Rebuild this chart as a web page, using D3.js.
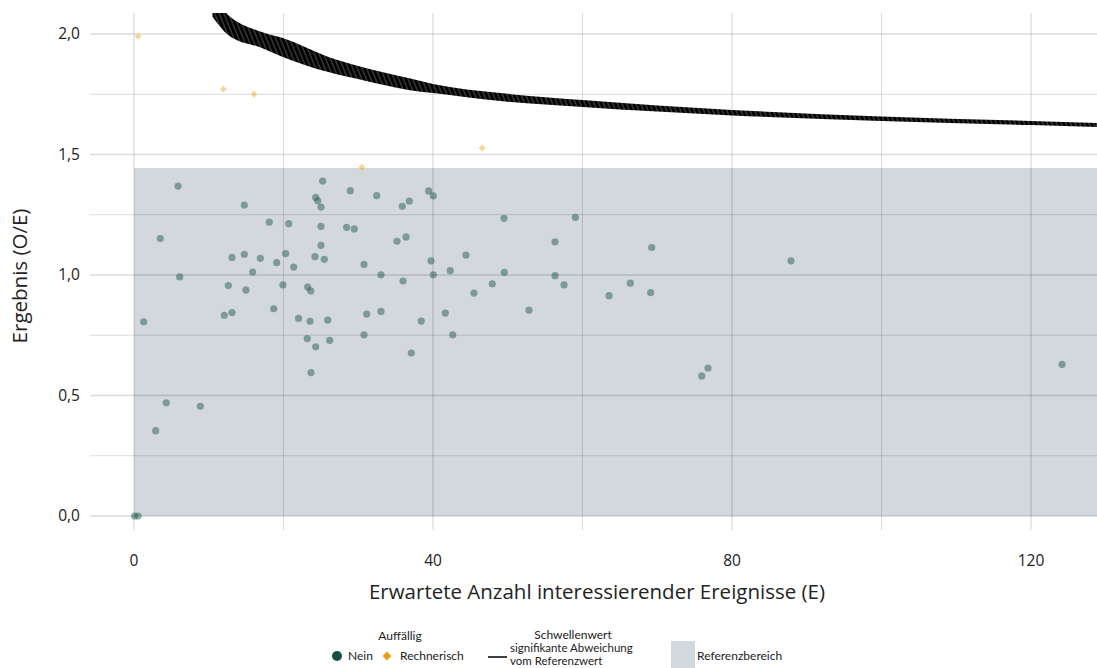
<!DOCTYPE html>
<html>
<head>
<meta charset="utf-8">
<script src="https://cdn.jsdelivr.net/npm/d3@7"></script>
<style>
  body { margin: 0; background: white; }
  svg { display: block; font-family: "Open Sans", Lato, sans-serif; }
</style>
</head>
<body>
<svg id="chart"></svg>
<script>
// Auffällig: Nein (E, O/E)
var neinE = [0.07, 0.54, 1.3, 2.9, 3.52, 4.32, 5.89, 6.11, 8.87, 12.08, 12.62, 13.11, 13.11, 14.76, 14.76,
  14.98, 15.88, 16.9, 18.1, 18.69, 19.09, 19.93, 20.29, 20.7, 21.36, 22.01, 23.24, 23.64, 23.55, 23.18,
  24.31, 23.68, 24.21, 24.31, 24.58, 25.02, 25.24, 25.02, 25.02, 25.46, 25.91, 26.18, 28.45, 28.94, 29.47,
  30.77, 31.13, 30.77, 32.47, 33.04, 33.04, 35.18, 35.89, 35.99, 36.39, 36.83, 37.1, 38.43, 39.42, 39.73,
  40.04, 40.04, 41.65, 42.31, 42.64, 44.41, 45.48, 47.93, 49.5, 49.54, 52.84, 56.32, 56.32, 57.53, 59.04,
  63.55, 66.4, 69.12, 69.26, 75.95, 76.79, 87.89, 124.15];
var neinR = [0, 0, 0.806, 0.354, 1.151, 0.47, 1.369, 0.992, 0.455, 0.833, 0.956, 0.844, 1.073, 1.29, 1.086,
  0.938, 1.012, 1.069, 1.219, 0.86, 1.051, 0.959, 1.089, 1.213, 1.033, 0.82, 0.95, 0.934, 0.808, 0.736,
  0.702, 0.595, 1.076, 1.322, 1.308, 1.282, 1.39, 1.202, 1.123, 1.065, 0.813, 0.729, 1.198, 1.35, 1.191,
  1.044, 0.838, 0.752, 1.329, 1.001, 0.849, 1.14, 1.285, 0.975, 1.158, 1.307, 0.676, 0.809, 1.349, 1.059,
  1.328, 1.001, 0.842, 1.018, 0.752, 1.083, 0.925, 0.963, 1.235, 1.011, 0.854, 1.138, 0.997, 0.959, 1.239,
  0.914, 0.966, 0.927, 1.114, 0.581, 0.614, 1.059, 0.629];

// Auffällig: Rechnerisch
var rechE = [0.54, 11.95, 16.05, 30.5, 46.56];
var rechR = [1.99, 1.771, 1.75, 1.447, 1.527];

// Schwellenwert (zigzag band: upper and lower edge)
var thrE  = [10.5, 12.6, 17.1, 19.9, 26, 30.5, 36.7, 40, 49, 60, 80, 100, 120, 128.8];
var thrHi = [2.15, 2.079, 2.008, 1.983, 1.905, 1.863, 1.817, 1.793, 1.755, 1.726, 1.685, 1.658, 1.639, 1.631];
var thrLo = [2.072, 1.996, 1.942, 1.905, 1.842, 1.809, 1.768, 1.755, 1.722, 1.697, 1.662, 1.639, 1.622, 1.614];

// Referenzbereich
var refLow = 0, refHigh = 1.444, refStartE = 0;

var xTicks = [0, 40, 80, 120], xMinor = [20, 60, 100];
var yTicks = [0, 0.5, 1, 1.5, 2], yMinor = [0.25, 0.75, 1.25, 1.75];

var W = 1097, H = 668;
var margin = {top: 13, right: 0, bottom: 138, left: 90},
    width = W - margin.left - margin.right,
    height = H - margin.top - margin.bottom;

var colNein = "#145048", colRech = "#e8a012", colBand = "#d3d8dc";

var svg = d3.select("#chart").attr("width", W).attr("height", H);

var x = d3.scaleLinear().domain([-5.886, 128.83]).range([0, width]);
var y = d3.scaleLinear().domain([-0.0581, 2.0871]).range([height, 0]);

var defs = svg.append("defs");
defs.append("clipPath").attr("id", "clip")
  .append("rect").attr("width", width).attr("height", height);

var pat = defs.append("pattern").attr("id", "zig")
  .attr("patternUnits", "userSpaceOnUse")
  .attr("width", 4.3).attr("height", 40)
  .attr("patternTransform", "rotate(-22)");
pat.append("rect").attr("width", 4.3).attr("height", 40).attr("fill", "#3a3a3a");
pat.append("rect").attr("width", 2.9).attr("height", 40).attr("fill", "black");

var g = svg.append("g")
  .attr("transform", "translate(" + margin.left + "," + margin.top + ")");

// reference band
g.append("rect")
  .attr("x", x(refStartE)).attr("y", y(refHigh))
  .attr("width", width - x(refStartE))
  .attr("height", y(refLow) - y(refHigh))
  .style("fill", colBand);

// grid
var grid = g.append("g").attr("class", "grid");
grid.selectAll(".vx").data(xTicks.concat(xMinor)).enter().append("line")
  .attr("x1", d => x(d)).attr("x2", d => x(d))
  .attr("y1", 0).attr("y2", height)
  .style("stroke", "rgba(0,0,0,0.14)")
  .style("stroke-width", d => xTicks.indexOf(d) >= 0 ? 1.3 : 1);
grid.selectAll(".hy").data(yTicks.concat(yMinor)).enter().append("line")
  .attr("y1", d => y(d)).attr("y2", d => y(d))
  .attr("x1", 0).attr("x2", width)
  .style("stroke", "rgba(0,0,0,0.14)")
  .style("stroke-width", d => yTicks.indexOf(d) >= 0 ? 1.3 : 1);

var plot = g.append("g").attr("clip-path", "url(#clip)");

// threshold
var area = d3.area()
  .x((d, i) => x(thrE[i]))
  .y0((d, i) => y(thrLo[i]))
  .y1((d, i) => y(thrHi[i]))
  .curve(d3.curveMonotoneX);
plot.append("path")
  .datum(thrE)
  .attr("d", area)
  .style("fill", "url(#zig)");

// points
plot.selectAll("circle.nein")
  .data(neinE).enter().append("circle")
  .attr("class", "nein")
  .attr("cx", (d, i) => x(neinE[i]))
  .attr("cy", (d, i) => y(neinR[i]))
  .attr("r", 3.6)
  .style("fill", colNein)
  .style("fill-opacity", 0.45);

var diamond = d3.symbol().type(d3.symbolDiamond2).size(30);
plot.selectAll("path.rech")
  .data(rechE).enter().append("path")
  .attr("class", "rech")
  .attr("transform", (d, i) => "translate(" + x(rechE[i]) + "," + y(rechR[i]) + ")")
  .attr("d", diamond)
  .style("fill", colRech)
  .style("fill-opacity", 0.43);

// axis labels
g.selectAll(".xl").data(xTicks).enter().append("text")
  .attr("x", d => x(d)).attr("y", height + 36)
  .attr("text-anchor", "middle")
  .style("font-size", "15.5px").style("fill", "#222")
  .text(d => d);

var fmt = d => d3.format(".1f")(d).replace(".", ",");
g.selectAll(".yl").data(yTicks).enter().append("text")
  .attr("x", -10).attr("y", d => y(d))
  .attr("dy", "0.35em")
  .attr("text-anchor", "end")
  .style("font-size", "15.5px").style("fill", "#222")
  .text(fmt);

svg.append("text")
  .attr("x", 597).attr("y", 599)
  .attr("text-anchor", "middle")
  .style("font-size", "20.5px").style("fill", "#222")
  .text("Erwartete Anzahl interessierender Ereignisse (E)");

svg.append("text")
  .attr("transform", "translate(27,276) rotate(-90)")
  .attr("text-anchor", "middle")
  .style("font-size", "20.5px").style("fill", "#222")
  .text("Ergebnis (O/E)");

// legend
var lg = svg.append("g").style("font-family", "Lato, sans-serif")
  .style("font-size", "12px").style("fill", "#222");
lg.append("text").attr("x", 400).attr("y", 636).attr("dy", "0.35em")
  .attr("text-anchor", "middle").text("Auffällig");
lg.append("circle").attr("cx", 337).attr("cy", 656).attr("r", 5).style("fill", colNein);
lg.append("text").attr("x", 348).attr("y", 656).attr("dy", "0.35em").text("Nein");
lg.append("path").attr("transform", "translate(387,656)")
  .attr("d", d3.symbol().type(d3.symbolDiamond2).size(50)).style("fill", colRech);
lg.append("text").attr("x", 400).attr("y", 656).attr("dy", "0.35em").text("Rechnerisch");

lg.append("line").attr("x1", 488).attr("x2", 507).attr("y1", 657).attr("y2", 657)
  .style("stroke", "black").style("stroke-width", 1.5);
lg.append("text").attr("x", 573).attr("y", 635).attr("dy", "0.35em")
  .attr("text-anchor", "middle").text("Schwellenwert");
lg.append("text").attr("x", 510).attr("y", 647.5).attr("dy", "0.35em")
  .style("font-size", "11.5px").text("signifikante Abweichung");
lg.append("text").attr("x", 510).attr("y", 661.2).attr("dy", "0.35em")
  .style("font-size", "11.5px").text("vom Referenzwert");

lg.append("rect").attr("x", 671).attr("y", 641).attr("width", 24).attr("height", 27).style("fill", colBand);
lg.append("text").attr("x", 697).attr("y", 656).attr("dy", "0.35em").text("Referenzbereich");
</script>
</body>
</html>
